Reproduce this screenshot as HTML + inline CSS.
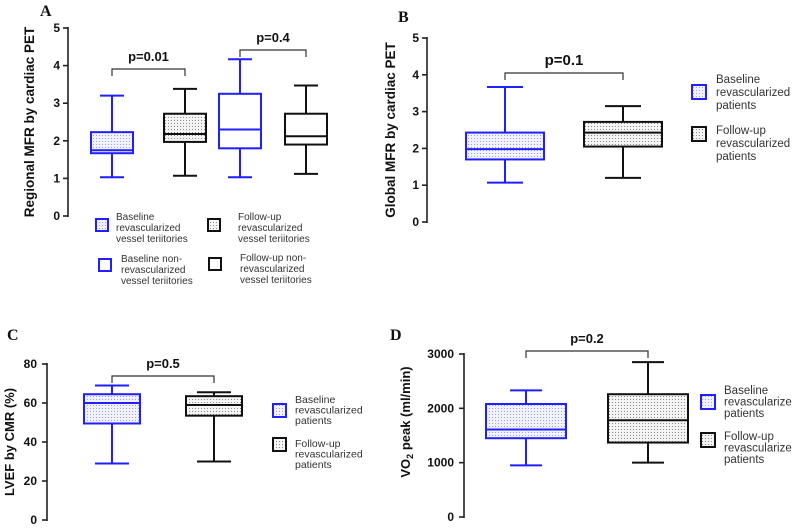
<!DOCTYPE html>
<html><head><meta charset="utf-8"><style>
html,body{margin:0;padding:0;background:#fff;}
svg{display:block;font-family:"Liberation Sans",Arial,sans-serif;}
</style></head><body>
<svg id="fig" width="792" height="529" viewBox="0 0 792 529">
<defs>
<pattern id="dotB" width="3" height="3" patternUnits="userSpaceOnUse"><rect width="3" height="3" fill="#f2f2ff"/><rect width="1" height="1" fill="#9aa0e8"/></pattern>
<pattern id="dotK" width="3" height="3" patternUnits="userSpaceOnUse"><rect width="3" height="3" fill="#f4f4f4"/><rect width="1" height="1" fill="#8a8a8a"/></pattern>
</defs>
<g id="root"></g>
</svg>
<script>
// Panel A data
const aCats = ['Baseline revasc', 'Follow-up revasc', 'Baseline non-revasc', 'Follow-up non-revasc'];
const aMin = [1.03, 1.07, 1.03, 1.12];
const aQ1 = [1.67, 1.97, 1.8, 1.9];
const aMed = [1.75, 2.18, 2.3, 2.12];
const aQ3 = [2.23, 2.72, 3.25, 2.72];
const aMax = [3.2, 3.38, 4.17, 3.47];
const aTicks = ['0','1','2','3','4','5'];
// Panel B data
const bMin = [1.07, 1.2];
const bQ1 = [1.7, 2.05];
const bMed = [1.98, 2.43];
const bQ3 = [2.43, 2.72];
const bMax = [3.67, 3.15];
const bTicks = ['0','1','2','3','4','5'];
// Panel C data
const cMin = [29, 30];
const cQ1 = [49.5, 53.5];
const cMed = [60, 59];
const cQ3 = [64.5, 63.5];
const cMax = [69, 65.5];
const cTicks = ['0','20','40','60','80'];
// Panel D data
const dMin = [950, 1000];
const dQ1 = [1450, 1370];
const dMed = [1610, 1780];
const dQ3 = [2080, 2260];
const dMax = [2330, 2850];
const dTicks = ['0','1000','2000','3000'];

const NS='http://www.w3.org/2000/svg';
const root=document.getElementById('root');
function mk(tag,attrs,parent){const e=document.createElementNS(NS,tag);for(const k in attrs)e.setAttribute(k,attrs[k]);(parent||root).appendChild(e);return e;}
function txt(x,y,s,attrs,parent){const e=mk('text',Object.assign({x:x,y:y},attrs||{}),parent);e.textContent=s;return e;}
const BLUE='#1f1fff',BLK='#111';

function panel(P){
  const g=mk('g',{});
  
  
  const ys=v=>P.y0+(v-P.vmin)/(P.vmax-P.vmin)*(P.y1-P.y0);
  const ax=mk('line',{x1:P.ax,y1:ys(P.vmin)+1,x2:P.ax,y2:ys(P.vmax)-1,stroke:'#222','stroke-width':1.6},g);
  
  
  P.ticks.forEach(t=>{const v=parseFloat(t);const y=ys(v);
    mk('line',{x1:P.ax-5,y1:y,x2:P.ax,y2:y,stroke:'#222','stroke-width':1.6},g);
    const tl=txt(P.ax-P.tgap,y+4,t,{'text-anchor':'end','font-size':P.tfs,'font-weight':'bold',fill:'#111'},g);
    
    
  });
  const yt=txt(0,0,'',{'text-anchor':'middle','font-size':P.yfs,'font-weight':'bold',fill:'#111',transform:`translate(${P.ytx},${P.yty}) rotate(-90)`},g);
  if(P.ytitleHtml){P.ytitleHtml(yt);}else yt.textContent=P.ytitle;
  
  
  const lt=txt(P.lx,P.ly,P.id,{'font-family':'Liberation Serif,serif','font-size':16,'font-weight':'bold',fill:'#111'},g);
  
  
  P.cx.forEach((cx,i)=>{
    const col=P.cols[i];const bg=mk('g',{},g);
    
    
    const hw=P.bw/2;
    mk('line',{x1:cx,y1:ys(P.max[i]),x2:cx,y2:ys(P.q3[i]),stroke:col,'stroke-width':2},bg);
    mk('line',{x1:cx,y1:ys(P.q1[i]),x2:cx,y2:ys(P.min[i]),stroke:col,'stroke-width':2},bg);
    mk('line',{x1:cx-P.cap,y1:ys(P.max[i]),x2:cx+P.cap,y2:ys(P.max[i]),stroke:col,'stroke-width':2},bg);
    mk('line',{x1:cx-P.cap,y1:ys(P.min[i]),x2:cx+P.cap,y2:ys(P.min[i]),stroke:col,'stroke-width':2},bg);
    mk('rect',{x:cx-hw,y:ys(P.q3[i]),width:P.bw,height:ys(P.q1[i])-ys(P.q3[i]),fill:P.fills[i],stroke:col,'stroke-width':2},bg);
    mk('line',{x1:cx-hw,y1:ys(P.med[i]),x2:cx+hw,y2:ys(P.med[i]),stroke:col,'stroke-width':2},bg);
  });
  P.br.forEach(b=>{
    const x1=P.cx[b[0]],x2=P.cx[b[1]];const y=b[2];
    const bk=mk('path',{d:`M${x1},${y+7}V${y}H${x2}V${y+7}`,fill:'none',stroke:'#333','stroke-width':1.2},g);
    
    
    const pt=txt((x1+x2)/2,y-8,b[3],{'text-anchor':'middle','font-size':P.pfs,'font-weight':'bold',fill:'#111'},g);
    
    
  });
  P.leg.forEach(L=>{
    const lg=mk('g',{},g);
    
    
    mk('rect',{x:L.sx,y:L.sy,width:L.sw,height:L.sw,fill:L.fill,stroke:L.col,'stroke-width':2},lg);
    L.lines.forEach((s,k)=>txt(L.tx,L.ty+k*L.lh,s,{'font-size':L.fs,fill:'#333'},lg));
  });
}

const A=['url(#dotB)','url(#dotK)','#fff','#fff'];
panel({id:'A',ax:68,y0:216,y1:28,vmin:0,vmax:5,ticks:aTicks,tfs:12,tgap:8,yfs:13.5,ytitle:'Regional MFR by cardiac PET',ytx:34,yty:122,lx:40,ly:16,
  cx:[112,185,240,306],bw:42,cap:12,cols:[BLUE,BLK,BLUE,BLK],fills:A,
  min:aMin,q1:aQ1,med:aMed,q3:aQ3,max:aMax,pfs:13,
  br:[[0,1,69,'p=0.01'],[2,3,50,'p=0.4']],
  leg:[{sx:96,sy:219,sw:12,fill:'url(#dotB)',col:BLUE,tx:116,ty:220,lh:11,fs:10,lines:['Baseline','revascularized','vessel teriitories']},
       {sx:208,sy:219,sw:12,fill:'url(#dotK)',col:BLK,tx:238,ty:220,lh:11,fs:10,lines:['Follow-up','revascularized','vessel teriitories']},
       {sx:99,sy:259,sw:12,fill:'#fff',col:BLUE,tx:121,ty:262,lh:11,fs:10,lines:['Baseline non-','revascularized','vessel teriitories']},
       {sx:209,sy:258,sw:12,fill:'#fff',col:BLK,tx:240,ty:261,lh:11,fs:10,lines:['Follow-up non-','revascularized','vessel teriitories']}]});
panel({id:'B',ax:427,y0:222,y1:38,vmin:0,vmax:5,ticks:bTicks,tfs:12,tgap:8,yfs:13.5,ytitle:'Global MFR by cardiac PET',ytx:395,yty:130,lx:398,ly:22,
  cx:[505,623],bw:78,cap:18,cols:[BLUE,BLK],fills:['url(#dotB)','url(#dotK)'],
  min:bMin,q1:bQ1,med:bMed,q3:bQ3,max:bMax,pfs:15,
  br:[[0,1,73,'p=0.1']],
  leg:[{sx:692,sy:85,sw:14,fill:'url(#dotB)',col:BLUE,tx:716,ty:83,lh:13,fs:11.5,lines:['Baseline','revascularized','patients']},
       {sx:692,sy:127,sw:14,fill:'url(#dotK)',col:BLK,tx:716,ty:134,lh:13,fs:11.5,lines:['Follow-up','revascularized','patients']}]});
panel({id:'C',ax:47,y0:520,y1:364,vmin:0,vmax:80,ticks:cTicks,tfs:12,tgap:10,yfs:13,ytitle:'LVEF by CMR (%)',ytx:14,yty:442,lx:7,ly:340,
  cx:[112,214],bw:56,cap:17,cols:[BLUE,BLK],fills:['url(#dotB)','url(#dotK)'],
  min:cMin,q1:cQ1,med:cMed,q3:cQ3,max:cMax,pfs:13,
  br:[[0,1,376,'p=0.5']],
  leg:[{sx:273,sy:404,sw:13,fill:'url(#dotB)',col:BLUE,tx:295,ty:403,lh:10.5,fs:10.5,lines:['Baseline','revascularized','patients']},
       {sx:273,sy:438,sw:13,fill:'url(#dotK)',col:BLK,tx:295,ty:447,lh:10.5,fs:10.5,lines:['Follow-up','revascularized','patients']}]});
panel({id:'D',ax:464,y0:517,y1:354,vmin:0,vmax:3000,ticks:dTicks,tfs:12,tgap:10,yfs:13,ytitle:'',ytx:410,yty:422,lx:390,ly:340,
  ytitleHtml:function(t){t.appendChild(document.createTextNode('VO'));const s=document.createElementNS(NS,'tspan');s.setAttribute('font-size','9');s.setAttribute('dy','3');s.textContent='2';t.appendChild(s);const s2=document.createElementNS(NS,'tspan');s2.setAttribute('dy','-3');s2.textContent=' peak (ml/min)';t.appendChild(s2);},
  cx:[526,648],bw:80,cap:16,cols:[BLUE,BLK],fills:['url(#dotB)','url(#dotK)'],
  min:dMin,q1:dQ1,med:dMed,q3:dQ3,max:dMax,pfs:13,
  br:[[0,1,351,'p=0.2']],
  leg:[{sx:701,sy:395,sw:14,fill:'url(#dotB)',col:BLUE,tx:724,ty:394,lh:11.5,fs:11.5,lines:['Baseline','revascularized','patients']},
       {sx:701,sy:433,sw:14,fill:'url(#dotK)',col:BLK,tx:724,ty:440,lh:11.5,fs:11.5,lines:['Follow-up','revascularized','patients']}]});
</script>
</body></html>
